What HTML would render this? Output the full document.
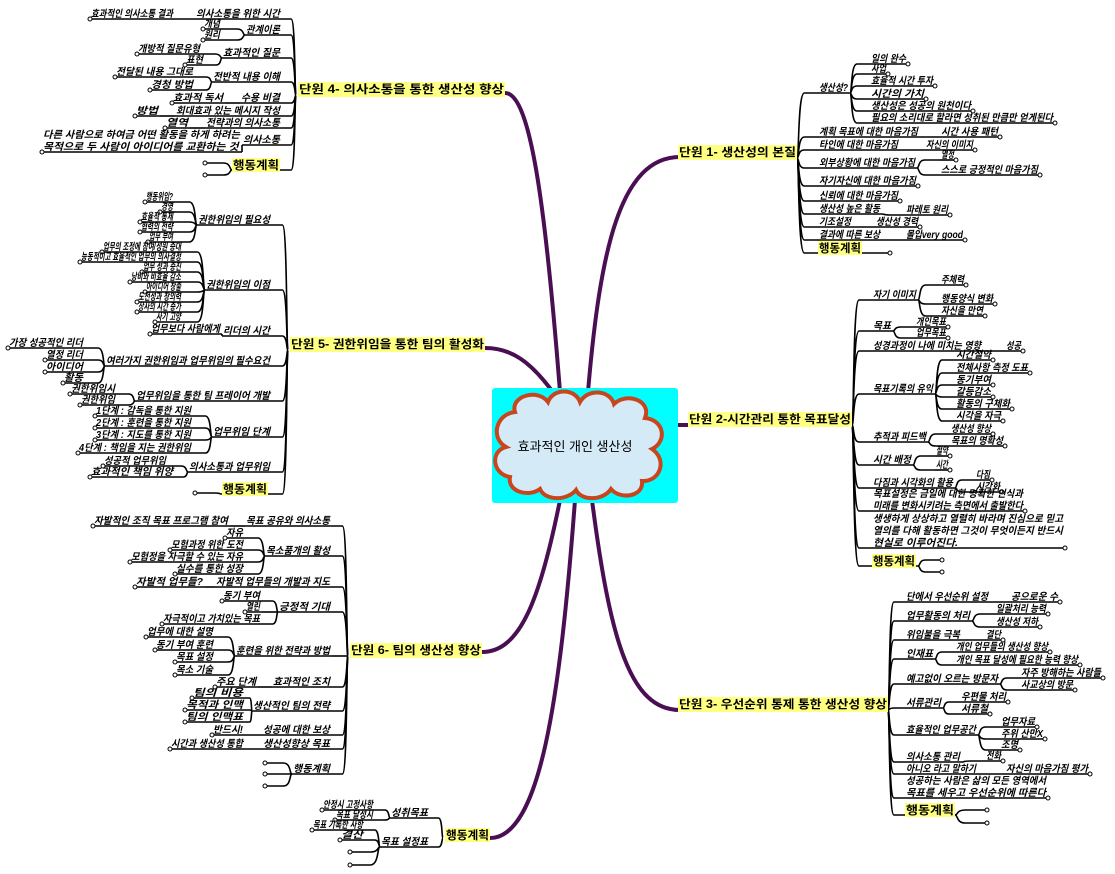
<!DOCTYPE html>
<html><head><meta charset="utf-8"><style>
html,body{margin:0;padding:0;background:#fff;width:1115px;height:874px;overflow:hidden}
svg text{font-family:"Liberation Sans","Noto Sans CJK KR",sans-serif;font-style:italic;font-weight:bold;font-size:10px;fill:#000}
svg text.u{font-style:normal;font-size:11.5px}
</style></head><body>
<svg id="s" width="1115" height="874" xmlns="http://www.w3.org/2000/svg">
<g fill="none" stroke="#4a0f52" stroke-width="4" stroke-linecap="round">
<path d="M588,392 C600,250 620,157 680,157"/>
<path d="M560,392 C545,200 530,93 505,93"/>
<path d="M555,395 C530,360 510,348 485,348"/>
<path d="M678,425 L690,425"/>
<path d="M592,500 C610,640 630,710 680,710"/>
<path d="M560,500 C540,600 520,652 482,652"/>
<path d="M575,500 C560,700 540,838 490,838"/>
</g>
<rect x="492" y="388" width="186" height="115" rx="3" fill="#00ffff"/>
<path d="M515,412 C510,396 538,388 548,402 C553,388 575,388 580,402 C588,388 610,390 614,404 C626,392 652,400 645,418 C665,420 667,442 652,449 C668,460 660,482 642,481 C644,497 620,500 611,489 C603,501 581,501 576,490 C567,501 545,501 540,489 C528,498 507,491 510,477 C492,474 490,451 506,447 C490,438 496,414 515,412 Z" fill="#d4eaf7" stroke="#c8461e" stroke-width="4"/>
<text x="575" y="451" text-anchor="middle" style="font-style:normal;font-weight:normal;font-size:13px">효과적인 개인 생산성</text>
<g id="g"></g>
</svg>
<script>
var g=document.getElementById('g'),NS='http://www.w3.org/2000/svg';
function el(n,a,t){var e=document.createElementNS(NS,n);for(var k in a)e.setAttribute(k,a[k]);if(t!=null)e.textContent=t;g.appendChild(e);return e;}
function curve(ox,oy,tx,ty){var k=(tx-ox)*0.35;el('path',{d:'M'+ox+','+oy+' C'+(ox+k*0.3)+','+oy+' '+(ox+k*0.1)+','+ty+' '+(ox+k)+','+ty+' L'+tx+','+ty,fill:'none',stroke:'#000','stroke-width':1.6});}
function txt(s,x1,x2,y){var L=s.split('|');for(var i=0;i<L.length;i++){var yy=y-2-(L.length-1-i)*12;var w=x2-x1-3;var lw=L.length>1?Math.min(w,L[i].length*8.5):w;el('text',{x:x1+1,y:yy,textLength:Math.max(4,lw),lengthAdjust:'spacingAndGlyphs'},L[i]);}}
function dot(x,y){el('circle',{cx:x,cy:y,r:2,fill:'#fff',stroke:'#000','stroke-width':1});}
function R(ox,oy,items){items.forEach(function(it){var x1=it[1],x2=it[2],y=it[3];curve(ox,oy,x1,y);el('line',{x1:x1,y1:y,x2:x2,y2:y,stroke:'#000','stroke-width':1.6});if(it[0])txt(it[0],x1,x2,y);if(it[4])R(x2,y,it[4]);else dot(x2,y);});}
function Lf(ox,oy,items){items.forEach(function(it){var x1=it[1],x2=it[2],y=it[3];curve(ox,oy,x2,y);el('line',{x1:x1,y1:y,x2:x2,y2:y,stroke:'#000','stroke-width':1.6});if(it[0])txt(it[0],x1,x2,y);if(it[4])Lf(x1,y,it[4]);else dot(x1,y);});}
function unit(s,x1,x2,y){el('rect',{x:x1,y:y-13,width:x2-x1,height:15,fill:'#ffff80'});el('text',{'class':'u',x:x1+1,y:y-2,textLength:x2-x1-2,lengthAdjust:'spacingAndGlyphs'},s);}
function act(x1,x2,y){el('rect',{x:x1,y:y-12,width:x2-x1,height:14,fill:'#ffff80'});el('text',{'class':'u',x:x1+1,y:y-1,textLength:x2-x1-2,lengthAdjust:'spacingAndGlyphs'},'행동계획');}
R(797,158,[
['생산성?',818,850,93,[['일의 완수',870,908,64],['사업',870,888,74],['효율적 시간 투자',870,935,86],['시간의 가치',870,926,99],['생산성은 성공의 원천이다',870,973,111],['필요의 소리대로 할라면 성취된 만큼만 얻게된다',870,1055,123]]],
['계획 목표에 대한 마음가짐',818,920,137,[['시간 사용 패턴',940,1000,137]]],
['타인에 대한 마음가짐',818,900,150,[['자신의 이미지',925,975,150]]],
['외부상황에 대한 마음가짐',818,917,168,[['열정',940,956,160],['스스로 긍정적인 마음가짐',940,1040,175]]],
['자기자신에 대한 마음가짐',818,918,186],
['신뢰에 대한 마음가짐',818,900,201],
['생산성 높은 활동',818,882,214,[['파레토 원리',905,950,215]]],
['기조설정',818,853,227,[['생산성 경력',875,920,227]]],
['결과에 따른 보상',818,882,240,[['몰입very good',905,965,240]]],
['',818,890,253]]);
unit('단원 1- 생산성의 본질',678,797,158);
act(818,862,253);
R(852,425,[
['자기 이미지',872,918,300,[['주체력',940,966,285],['행동양식 변화',940,995,304],['자신을 만연',940,985,316]]],
['목표',872,893,331,[['개인목표',915,948,327],['업무목표',915,948,338]]],
['성경과정이 나에 미치는 영향',872,983,351,[['성공',1005,1023,351]]],
['목표기록의 유익',872,935,394,[['시간절약',955,993,360],['전체사항 측정 도표',955,1030,373],['동기부여',955,993,385],['갈등감소',955,993,397],['활동의 구체화',955,1012,409],['시각을 자극',955,1003,421]]],
['추적과 피드백',872,928,442,[['생산성 향상',950,993,434],['목표의 명확성',950,1005,446]]],
['시간 배정',872,913,465,[['절약',935,950,456],['시간',935,950,470]]],
['다짐과 시각화의 활용',872,955,488,[['다짐',975,992,480],['시각화',975,1002,492]]],
['목표설정은 금일에 대한 명확한 인식과|미래를 변화시키려는 측면에서 출발한다',872,1025,511],
['생생하게 상상하고 열렬히 바라며 진심으로 믿고|열의를 다해 활동하면 그것이 무엇이든지 반드시|현실로 이루어진다.',872,1065,548],
['',872,918,566,[['',940,942,560],['',940,942,572]]]]);
unit('단원 2-시간관리 통한 목표달성',688,852,425);
act(872,916,566);
R(888,710,[
['단에서 우선순위 설정',905,990,602,[['공으로운 수',1010,1060,602]]],
['업무활동의 처리',905,972,621,[['일괄처리 능력',995,1048,614],['생산성 저하',995,1040,627]]],
['위임불을 극복',905,962,640,[['결단',985,1003,640]]],
['인재표',905,935,659,[['개인 업무들의 생산성 향상',955,1050,652],['개인 목표 달성에 필요한 능력 향상',955,1080,665]]],
['예고없이 오르는 방문자',905,1000,684,[['자주 방해하는 사람들',1020,1103,678],['사교상의 방문',1020,1075,690]]],
['서류관리',905,943,708,[['우편물 처리',960,1008,702],['서류철',960,990,714]]],
['효율적인 업무공간',905,978,735,[['업무자료',1000,1037,727],['주위 산만X',1000,1045,739],['조명',1000,1020,750]]],
['의사소통 관리',905,962,762,[['전화',985,1003,761]]],
['아니오 라고 말하기',905,978,774,[['자신의 마음가짐 평가',1005,1090,774]]],
['성공하는 사람은 삶의 모든 영역에서|목표를 세우고 우선순위에 따른다',905,1048,798],
['',905,955,815,[['',985,987,810],['',985,987,823]]]]);
unit('단원 3- 우선순위 통제 통한 생산성 향상',678,888,710);
act(905,955,815);
Lf(296,95,[
['의사소통을 위한 시간',195,282,19,[['효과적인 의사소통 결과',90,175,19]]],
['관계이론',245,282,35,[['개념',203,222,29],['원리',203,222,40]]],
['효과적인 질문',222,282,58,[['개방적 질문유형',137,202,54],['표현',185,205,65]]],
['전반적 내용 이해',212,282,82,[['전달된 내용 그대로',115,195,77],['경청 방법',150,195,90]]],
['수용 비결',240,282,103,[['효과적 독서',172,225,103]]],
['회대효과 있는 메시지 작성',175,282,116,[['방법',135,160,116]]],
['전략과의 의사소통',205,282,128,[['열역',165,190,128]]],
['의사소통',242,282,145,[['다른 사람으로 하여금 어떤 활동을 하게 하려는|목적으로 두 사람이 아이디어를 교환하는 것',42,242,152]]],
['',232,282,170,[['',205,207,163],['',205,207,175]]]]);
unit('단원 4- 의사소통을 통한 생산성 향상',298,505,95);
act(232,280,170);
Lf(288,350,[
['권한위임의 필요성',197,272,225,[['행동위임?',145,175,202],['경영',160,175,212],['효율적 통제',140,175,222],['협력의 전략',140,175,232],['업무 부여',148,175,242]]],
['권한위임의 이점',205,272,290,[['업무의 조정에 참여/성원 증대',102,183,252],['능동적이고 효율적인 업무의 의사결정',80,183,262],['업무 성과 증진',142,183,272],['낭비와 비효율 감소',130,183,282],['아이디어 창출',145,183,292],['도전성과 창의력',137,183,302],['상사의 시간 증가',137,183,312],['사기 고양',155,183,322]]],
['리더의 시간',222,272,336,[['업무보다 사람에게',150,222,334]]],
['여러가지 권한위임과 업무위임의 필수요건',105,272,366,[['가장 성공적인 리더',8,85,348],['열정 리더',45,85,360],['아이디어',45,85,372],['활동',63,85,383]]],
['업무위임을 통한 팀 프레이어 개발',135,272,401,[['권한위임시',70,117,394],['권한위임',80,117,405]]],
['업무위임 단계',212,272,437,[['1단계 : 감독을 통한 지원',95,193,416],['2단계 : 훈련을 통한 지원',95,193,428],['3단계 : 지도를 통한 지원',95,193,440],['4단계 : 책임을 지는 권한위임',78,193,453]]],
['의사소통과 업무위임',188,272,472,[['성공적 업무위임',103,168,466],['효과적인 책임 위양',90,175,477]]],
['',222,272,494,[['',195,197,493]]]]);
unit('단원 5- 권한위임을 통한 팀의 활성화',290,485,350);
act(222,268,494);
Lf(348,656,[
['목표 공유와 의사소통',245,332,526,[['자발적인 조직 목표 프로그램 참여',93,230,526]]],
['목소품개의 활성',265,332,556,[['자유',225,245,538],['모험과정 위한 도전',170,245,550],['모험정을 자극할 수 있는 자유',130,245,562],['실수를 통한 성장',175,245,574]]],
['자발적 업무들의 개발과 지도',215,332,587,[['자발적 업무들?',135,205,587]]],
['긍정적 기대',278,332,612,[['동기 부여',222,262,601],['열린',245,262,612],['자극적이고 가치있는 목표',162,262,624]]],
['훈련을 위한 전략과 방법',235,332,656,[['업무에 대한 설명',146,215,637],['동기 부여 훈련',155,215,650],['목표 설정',175,215,662],['목소 기술',175,215,675]]],
['효과적인 조치',272,332,687,[['주요 단계',215,258,687]]],
['생산적인 팀의 전략',252,332,711,[['팀의 비용',192,245,698],['목적과 인맥',185,245,710],['팀의 인맥표',185,245,722]]],
['성공에 대한 보상',262,332,735,[['반드시!',212,245,735]]],
['생산성향상 목표',262,332,749,[['시간과 생산성 통합',170,245,749]]],
['행동계획',292,332,774,[['',265,267,763],['',265,267,774],['',265,267,786]]]]);
unit('단원 6- 팀의 생산성 향상',350,482,656);
Lf(443,838,[
['성취목표',390,430,818,[['안정시 고정사항',322,375,810],['목표 달성시',335,375,820]]],
['목표 설정표',380,430,847,[['목표 기록한 사항',312,365,830],['결산',340,365,840],['',350,352,852],['',350,352,865]]]]);
act(445,490,840);
</script>
</body></html>
